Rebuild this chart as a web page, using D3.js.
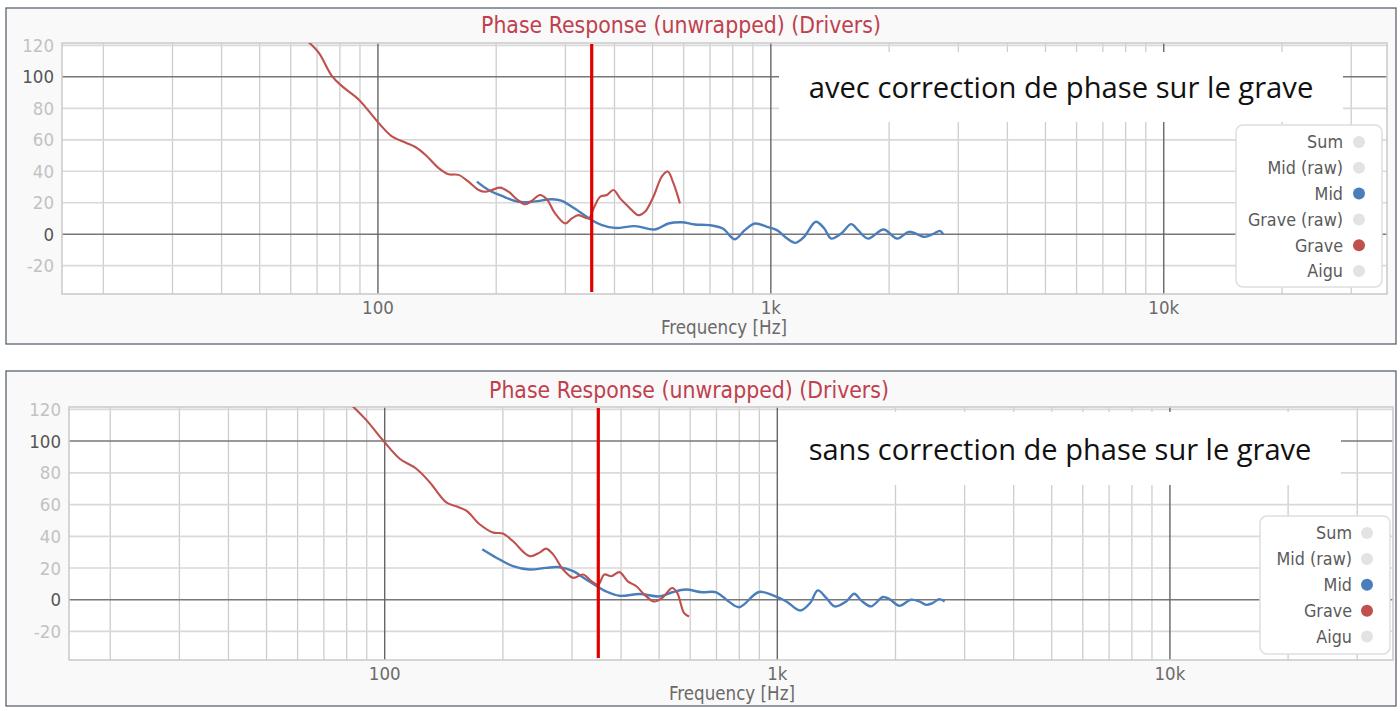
<!DOCTYPE html>
<html>
<head>
<meta charset="utf-8">
<script src="https://cdn.jsdelivr.net/npm/d3@7"></script>
<style>
  html, body { margin: 0; padding: 0; background: #ffffff; }
  svg { display: block; }
  .chartfont { font-family: "Liberation Sans Narrow", "DejaVu Sans Condensed", "Roboto", sans-serif; }
</style>
</head>
<body>
<svg id="svg" width="1400" height="711"></svg>
<script>
// ---------------- DATA ----------------
const chartTitle = "Phase Response (unwrapped) (Drivers)";
const xAxisTitle = "Frequency [Hz]";
const yTickValues = [120, 100, 80, 60, 40, 20, 0, -20];
const yMajorValues = [100, 0];
const xLabelTicks = [100, 1000, 10000];
const xLabelText = ["100", "1k", "10k"];
const xMinorTicks = [20, 30, 40, 50, 60, 70, 80, 90, 200, 300, 400, 500, 600, 700, 800, 900,
                     2000, 3000, 4000, 5000, 6000, 7000, 8000, 9000, 20000, 30000];
const crossoverHz = 350;

const topNote = "avec correction de phase sur le grave";
const bottomNote = "sans correction de phase sur le grave";

const topLegend = ["Sum", "Mid (raw)", "Mid", "Grave (raw)", "Grave", "Aigu"];
const bottomLegend = ["Sum", "Mid (raw)", "Mid", "Grave", "Aigu"];

// [frequency Hz, phase deg]
const topGrave = [
  [62, 130], [66, 123], [70.6, 115.5], [76.4, 100.5], [81, 94.1], [89.3, 85.6], [100.4, 70.7],
  [108.5, 62.2], [117.4, 58.3], [124.5, 55.4], [132, 50.5], [142.7, 42], [151.3, 38.1],
  [160.4, 37.7], [170, 33.4], [180.5, 28.1], [187.5, 27], [195, 28.1], [204.5, 29.6],
  [215, 27], [225.8, 22.2], [237.3, 19], [246.6, 21.3], [258.6, 24.9], [269, 22.2],
  [282.4, 13.2], [299.6, 6.8], [311.6, 10], [323.9, 12.1], [343.6, 10], [353.9, 16.4],
  [367.8, 23.8], [382.5, 24.9], [397.6, 28.1], [413.4, 22.8], [429.6, 18.5], [442.6, 15.3],
  [460.1, 12.1], [478.3, 14.2], [502.4, 23.8], [527.8, 36.6], [546.5, 39.8], [565, 32.4],
  [587, 19.6]
];
const topMid = [
  [178.6, 33.4], [191.2, 28.1], [206.8, 24.3], [228, 20.6], [246.6, 20.6], [277.4, 22.2],
  [294.2, 21.1], [311.6, 17.4], [330.5, 13.2], [350.3, 8.9], [371.7, 5.8], [401.5, 4.0],
  [451.4, 5.1], [507, 3.0], [548.7, 6.8], [593.7, 7.6], [640, 6.2], [697, 5.8],
  [754.8, 3.6], [808.6, -3.2], [858.4, 2.6], [911, 6.8], [977, 4.7], [1036, 2.6],
  [1100, -2.8], [1156, -5.5], [1215, -1.7], [1302, 7.9], [1368, 3.6], [1424, -2.8],
  [1510, 0.4], [1602, 6.4], [1667, 2.6], [1769, -2.8], [1936, 3.0], [2096, -2.8],
  [2248, 1.5], [2460, -1.7], [2585, 0], [2691, 2.1], [2745, 0]
];
const bottomGrave = [
  [78, 128], [82.3, 122.7], [89.8, 113.2], [99, 100.5], [109.2, 88.9], [120.4, 82.6],
  [130.2, 74.1], [143.5, 61.4], [152.2, 58.9], [161.4, 56.1], [174.5, 47.6], [188.7, 42.4],
  [200, 41.7], [212, 37], [233.8, 27.5], [248, 29.7], [257.7, 32.2], [268.4, 28.6],
  [284.6, 19.1], [301.9, 13.8], [320, 15.9], [336.7, 11.6], [350, 9.5], [362.5, 15.9],
  [377.8, 14.8], [396, 17.4], [416, 11.6], [437.6, 8.5], [458.7, 3.2], [485.4, -1.1],
  [508.7, 1.1], [540, 7.4], [556, 4.3], [579, -8.5], [596, -10.6]
];
const bottomMid = [
  [177.2, 31.8], [192.4, 26.5], [212, 21.2], [233.8, 19.1], [257.7, 20.1], [279, 20.5],
  [301.9, 18.0], [325.9, 12.7], [345.5, 8.9], [366, 5.3], [396, 2.5], [446.3, 3.6],
  [501, 2.1], [540, 4.7], [584, 6.4], [643, 4.7], [698.5, 4.7], [752, -1.1], [800, -4.7],
  [898, 4.9], [990, 2.1], [1055, -1.1], [1143, -6.8], [1212, -2.1], [1268, 5.9],
  [1333, 1.1], [1401, -4.2], [1497, -1.1], [1571, 3.8], [1635, -0.4], [1733, -4.2],
  [1857, 1.7], [1931, 0.4], [2047, -3.8], [2187, 0], [2300, -1.1], [2390, -3.2],
  [2486, -2.1], [2587, 0.4], [2668, -1.1]
];

const xDomain = [15.7, 37000];
const yDomain = [-38, 121.5];

// ---------------- STYLE ----------------
const COL_GRAVE = "#c0504d";
const COL_MID = "#4a7ebb";
const COL_OFF = "#e3e3e3";
const COL_TITLE = "#c0404e";

const svg = d3.select("#svg");

function fitText(sel, baseSize, targetWidth) {
  sel.attr("font-size", baseSize);
  const w = sel.node().getComputedTextLength();
  sel.attr("font-size", baseSize * targetWidth / w);
}

function drawChart(cfg) {
  const g = svg.append("g").attr("class", "chartfont");
  // frame
  g.append("rect").attr("x", cfg.frame[0]).attr("y", cfg.frame[1])
    .attr("width", cfg.frame[2] - cfg.frame[0]).attr("height", cfg.frame[3] - cfg.frame[1])
    .attr("fill", "#f9f9f9").attr("stroke", "#4b5763").attr("stroke-width", 1.2);

  const x = d3.scaleLog().domain(xDomain).range([cfg.plot[0], cfg.plot[2]]);
  const y = d3.scaleLinear().domain(yDomain).range([cfg.plot[3], cfg.plot[1]]);

  // plot background
  g.append("rect").attr("x", cfg.plot[0]).attr("y", cfg.plot[1])
    .attr("width", cfg.plot[2] - cfg.plot[0]).attr("height", cfg.plot[3] - cfg.plot[1])
    .attr("fill", "#ffffff");

  // minor vertical grid
  g.append("g").selectAll("line").data(xMinorTicks).join("line")
    .attr("x1", d => x(d)).attr("x2", d => x(d))
    .attr("y1", cfg.plot[1]).attr("y2", cfg.plot[3])
    .attr("stroke", "#cdcdcd").attr("stroke-width", 1.3);
  // horizontal grid
  g.append("g").selectAll("line").data(yTickValues.filter(v => !yMajorValues.includes(v))).join("line")
    .attr("x1", cfg.plot[0]).attr("x2", cfg.plot[2])
    .attr("y1", d => y(d)).attr("y2", d => y(d))
    .attr("stroke", "#d9d9d9").attr("stroke-width", 1.7);
  g.append("g").selectAll("line").data(yMajorValues).join("line")
    .attr("x1", cfg.plot[0]).attr("x2", cfg.plot[2])
    .attr("y1", d => y(d)).attr("y2", d => y(d))
    .attr("stroke", "#777777").attr("stroke-width", 1.5);
  // major vertical grid
  g.append("g").selectAll("line").data(xLabelTicks).join("line")
    .attr("x1", d => x(d)).attr("x2", d => x(d))
    .attr("y1", cfg.plot[1]).attr("y2", cfg.plot[3])
    .attr("stroke", "#666666").attr("stroke-width", 1.4);

  // plot border
  g.append("rect").attr("x", cfg.plot[0]).attr("y", cfg.plot[1])
    .attr("width", cfg.plot[2] - cfg.plot[0]).attr("height", cfg.plot[3] - cfg.plot[1])
    .attr("fill", "none").attr("stroke", "#cccccc").attr("stroke-width", 1.6);

  // y tick labels
  g.append("g").selectAll("text").data(yTickValues).join("text")
    .attr("x", cfg.plot[0] - 8).attr("y", d => y(d)).attr("dy", "0.36em")
    .attr("text-anchor", "end").attr("font-size", 18.5)
    .attr("fill", d => yMajorValues.includes(d) ? "#555555" : "#c2c2c2")
    .text(d => d);
  // x tick labels
  g.append("g").selectAll("text").data(xLabelTicks).join("text")
    .attr("x", d => x(d)).attr("y", cfg.plot[3] + 20)
    .attr("text-anchor", "middle").attr("font-size", 18.5).attr("fill", "#6a6a6a")
    .text((d, i) => xLabelText[i]);
  const xt = g.append("text").attr("x", cfg.xTitleX).attr("y", cfg.plot[3] + 40)
    .attr("text-anchor", "middle").attr("fill", "#6a6a6a")
    .text(xAxisTitle);
  fitText(xt, 18, 126);
  // title
  const tt = g.append("text").attr("x", cfg.titleX).attr("y", cfg.titleY)
    .attr("text-anchor", "middle").attr("fill", COL_TITLE)
    .text(chartTitle);
  fitText(tt, 22, 400);

  // curves
  const clipId = "clip" + cfg.id;
  g.append("clipPath").attr("id", clipId).append("rect")
    .attr("x", cfg.plot[0]).attr("y", cfg.plot[1])
    .attr("width", cfg.plot[2] - cfg.plot[0]).attr("height", cfg.plot[3] - cfg.plot[1]);
  const line = d3.line().x(d => x(d[0])).y(d => y(d[1])).curve(d3.curveCatmullRom.alpha(0.5));
  const cg = g.append("g").attr("clip-path", `url(#${clipId})`);
  cg.append("path").attr("d", line(cfg.mid)).attr("fill", "none")
    .attr("stroke", COL_MID).attr("stroke-width", 2.4).attr("stroke-linejoin", "round");
  cg.append("path").attr("d", line(cfg.grave)).attr("fill", "none")
    .attr("stroke", COL_GRAVE).attr("stroke-width", 2.1).attr("stroke-linejoin", "round");

  // crossover line
  g.append("line").attr("x1", x(crossoverHz)).attr("x2", x(crossoverHz))
    .attr("y1", cfg.plot[1] + 1).attr("y2", cfg.plot[3] - 2)
    .attr("stroke", "#e00000").attr("stroke-width", 3.2);

  // note box
  g.append("rect").attr("x", cfg.note[0]).attr("y", cfg.note[1])
    .attr("width", cfg.note[2] - cfg.note[0]).attr("height", cfg.note[3] - cfg.note[1])
    .attr("fill", "#ffffff");
  const nt = g.append("text").attr("x", cfg.noteTextX).attr("y", cfg.noteTextY)
    .attr("text-anchor", "middle").attr("fill", "#111111")
    .style("font-family", "'Open Sans', 'Noto Sans', sans-serif")
    .text(cfg.noteText);
  fitText(nt, 26, cfg.noteWidth);

  // legend
  const L = cfg.legend;
  g.append("rect").attr("x", L.box[0]).attr("y", L.box[1])
    .attr("width", L.box[2] - L.box[0]).attr("height", L.box[3] - L.box[1])
    .attr("rx", 7).attr("fill", "#ffffff").attr("stroke", "#dedede").attr("stroke-width", 1.5);
  const items = g.append("g").selectAll("g").data(L.names).join("g")
    .attr("transform", (d, i) => `translate(0,${L.y0 + i * L.dy})`);
  items.append("text").attr("x", L.textX).attr("dy", "0.36em")
    .attr("text-anchor", "end").attr("font-size", 17.8).attr("fill", "#5a5a5a")
    .text(d => d);
  items.append("circle").attr("cx", L.dotX).attr("r", 6)
    .attr("fill", d => d === "Mid" ? COL_MID : d === "Grave" ? COL_GRAVE : COL_OFF);
}

drawChart({
  id: "top",
  frame: [6, 8, 1396, 344],
  plot: [62, 43, 1387, 294],
  titleX: 681, titleY: 33,
  xTitleX: 724,
  grave: topGrave, mid: topMid,
  note: [779, 52, 1343, 122], noteTextX: 1061, noteTextY: 98, noteWidth: 505, noteText: topNote,
  legend: { box: [1236, 125, 1382, 287], names: topLegend, y0: 142, dy: 25.8, textX: 1343, dotX: 1359 }
});
drawChart({
  id: "bottom",
  frame: [6, 371, 1396, 706],
  plot: [69, 407, 1393, 660],
  titleX: 689, titleY: 398,
  xTitleX: 732,
  grave: bottomGrave, mid: bottomMid,
  note: [778, 412, 1341, 485], noteTextX: 1060, noteTextY: 460, noteWidth: 503, noteText: bottomNote,
  legend: { box: [1260, 516, 1390, 654], names: bottomLegend, y0: 533, dy: 25.9, textX: 1352, dotX: 1367 }
});
</script>
</body>
</html>
